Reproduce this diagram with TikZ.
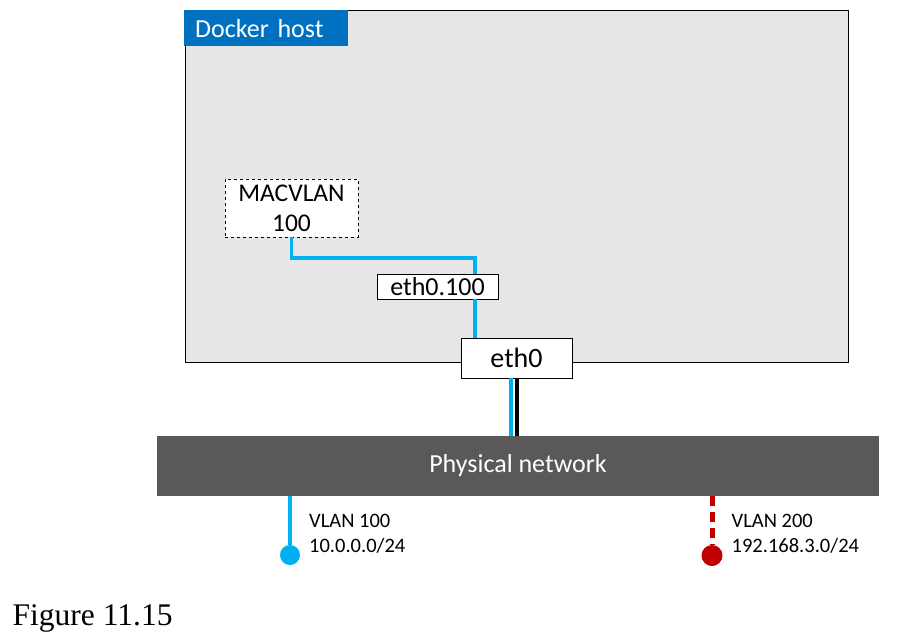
\documentclass[tikz,border=0pt]{standalone}
\usepackage{fontspec}
\setmainfont{Carlito}
\newfontfamily\figfont{Liberation Serif}
\definecolor{hostgray}{HTML}{E6E6E6}
\definecolor{tabblue}{HTML}{0070C0}
\definecolor{vlanblue}{HTML}{00B0F0}
\definecolor{vlanred}{HTML}{C00000}
\definecolor{netgray}{HTML}{595959}
\tikzset{
    ifbox/.style={draw, fill=white, inner sep=0pt, align=center},
    blueline/.style={vlanblue, line width=3.5pt},
    vlanlabel/.style={anchor=base west, inner sep=0pt, align=left, font=\fontsize{20.5}{25}\selectfont}
}
\begin{document}
\begin{tikzpicture}[x=1pt,y=-1pt]
            \useasboundingbox (0,0) rectangle (910,638);
            % docker host
            \node[draw, fill=hostgray, anchor=north west, minimum width=663pt, minimum height=352pt, inner sep=0pt] (host) at (185,10) {};
            \node[fill=tabblue, text=white, anchor=north west, minimum height=36pt, text width=142pt, inner xsep=11pt, inner ysep=0pt, align=left, font=\fontsize{26}{30}\selectfont] (hostlabel) at (184,10) {Docker host};

            \node[ifbox, dashed, minimum width=133pt, minimum height=58pt, font=\fontsize{25.5}{30}\selectfont] (macvlan) at (291.5,208) {MACVLAN\\100};
            \node[ifbox, minimum width=121pt, minimum height=25pt, font=\fontsize{26}{30}\selectfont] (eth100) at (437.5,286.5) {eth0.100};
            \node[ifbox, minimum width=111pt, minimum height=40pt, font=\fontsize{28}{32}\selectfont] (eth0) at (516.5,358) {eth0};
            \coordinate (tap) at (475,258);

            % physical network
            \node[fill=netgray, text=white, minimum width=722pt, minimum height=60pt, inner sep=0pt, font=\fontsize{26}{30}\selectfont] (phys) at (518,466) {Physical network};

            \node[circle, fill=vlanblue, minimum size=20pt, inner sep=0pt] (end100) at (290,555) {};
            \node[circle, fill=vlanred, minimum size=21pt, inner sep=0pt] (end200) at (712,555.5) {};

            \draw[blueline] (macvlan.south) |- (tap) -- (tap |- eth100.north);
            \draw[blueline] (tap |- eth100.south) -- (tap |- eth0.north);
            \draw[blueline] ([xshift=-5.5pt]eth0.south) -- ([xshift=-5.5pt]eth0.south |- phys.north);
            \draw[black, line width=4pt] (eth0.south) -- (eth0.south |- phys.north);
            \draw[blueline] (end100) -- (end100 |- phys.south);
            \draw[vlanred, line width=5pt, dash pattern=on 10pt off 6pt] (phys.south -| end200) -- (end200);

            \node[vlanlabel] (lab100) at (309,552) {VLAN 100\\10.0.0.0/24};
            \node[vlanlabel] (lab200) at (731.5,552) {VLAN 200\\192.168.3.0/24};

            \node[anchor=base west, inner sep=0pt, font=\figfont\fontsize{31.5}{36}\selectfont] (caption) at (12.5,625.5) {Figure 11.15};
        \end{tikzpicture}
\end{document}
